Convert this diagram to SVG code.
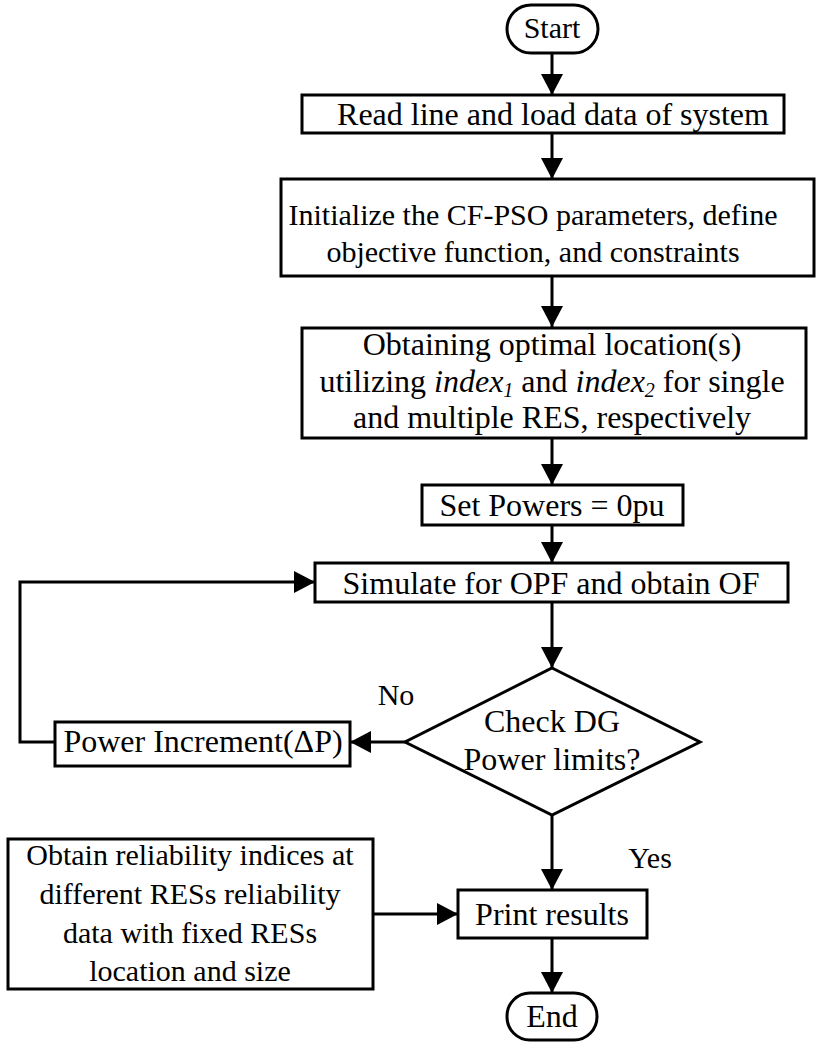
<svg xmlns="http://www.w3.org/2000/svg" width="817" height="1043" viewBox="0 0 817 1043">
<style>
.box{fill:#fff;stroke:#000;stroke-width:3}
.t{font-family:"Liberation Serif","Times New Roman",serif;font-size:32px;fill:#000;text-anchor:middle}
.s{font-size:30px}
.i{font-style:italic}
.sub{font-style:italic;font-size:20px}
.c{fill:none;stroke:#000;stroke-width:3}
</style>
<defs>
<marker id="ah" markerUnits="userSpaceOnUse" markerWidth="22" markerHeight="22" refX="21" refY="11" orient="auto">
<path d="M0,0 L21,11 L0,22 z" fill="#000"/>
</marker>
</defs>
<rect width="817" height="1043" fill="#fff"/>
<g id="connectors">
<line class="c" x1="552" y1="53" x2="552" y2="95" marker-end="url(#ah)"/>
<line class="c" x1="552" y1="133" x2="552" y2="179" marker-end="url(#ah)"/>
<line class="c" x1="552" y1="276" x2="552" y2="327" marker-end="url(#ah)"/>
<line class="c" x1="552" y1="438" x2="552" y2="485" marker-end="url(#ah)"/>
<line class="c" x1="552" y1="525" x2="552" y2="563" marker-end="url(#ah)"/>
<line class="c" x1="552" y1="602" x2="552" y2="668" marker-end="url(#ah)"/>
<line class="c" x1="405" y1="742" x2="350" y2="742" marker-end="url(#ah)"/>
<polyline class="c" points="55,742 20,742 20,582 315,582" marker-end="url(#ah)"/>
<line class="c" x1="552" y1="815" x2="552" y2="890" marker-end="url(#ah)"/>
<line class="c" x1="373" y1="914" x2="458" y2="914" marker-end="url(#ah)"/>
<line class="c" x1="552" y1="938" x2="552" y2="993" marker-end="url(#ah)"/>
<text class="t s" x="396" y="705">No</text>
<text class="t s" x="650" y="868">Yes</text>
</g>
<g id="start">
<rect class="box" x="507" y="5" width="91" height="48" rx="24"/>
<text class="t s" x="552" y="38">Start</text>
</g>
<g id="read">
<rect class="box" x="302" y="95" width="482" height="38"/>
<text class="t" x="553" y="125">Read line and load data of system</text>
</g>
<g id="init">
<rect class="box" x="281" y="179" width="533" height="97"/>
<text class="t s" x="533" y="225">Initialize the CF-PSO parameters, define</text>
<text class="t s" x="533" y="262">objective function, and constraints</text>
</g>
<g id="location">
<rect class="box" x="302" y="328" width="504" height="110"/>
<text class="t" x="552" y="355">Obtaining optimal location(s)</text>
<text class="t" x="552" y="392">utilizing <tspan class="i">index</tspan><tspan class="sub" baseline-shift="-5">1</tspan> and <tspan class="i">index</tspan><tspan class="sub" baseline-shift="-5">2</tspan> for single</text>
<text class="t" x="552" y="428">and multiple RES, respectively</text>
</g>
<g id="setpower">
<rect class="box" x="422" y="485" width="261" height="40"/>
<text class="t" x="552" y="516">Set Powers = 0pu</text>
</g>
<g id="simulate">
<rect class="box" x="315" y="563" width="473" height="39"/>
<text class="t" x="551" y="594">Simulate for OPF and obtain OF</text>
</g>
<g id="check">
<polygon class="box" points="552,668 700,742 552,815 405,742"/>
<text class="t" x="552" y="732">Check DG</text>
<text class="t" x="552" y="770">Power limits?</text>
</g>
<g id="increment">
<rect class="box" x="55" y="722" width="295" height="44"/>
<text class="t" x="203" y="752">Power Increment(ΔP)</text>
</g>
<g id="reliability">
<rect class="box" x="8" y="839" width="365" height="150"/>
<text class="t s" x="190" y="865">Obtain reliability indices at</text>
<text class="t s" x="190" y="904">different RESs reliability</text>
<text class="t s" x="190" y="943">data with fixed RESs</text>
<text class="t s" x="190" y="981">location and size</text>
</g>
<g id="print">
<rect class="box" x="458" y="890" width="189" height="48"/>
<text class="t" x="552" y="925">Print results</text>
</g>
<g id="end">
<rect class="box" x="507" y="993" width="90" height="47" rx="23"/>
<text class="t" x="552" y="1027" font-size="31">End</text>
</g>
</svg>
